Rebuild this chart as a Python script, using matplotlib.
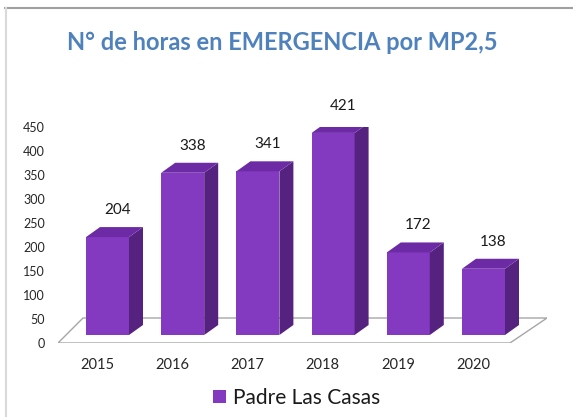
import matplotlib
matplotlib.use("Agg")
import matplotlib.pyplot as plt
from matplotlib.patches import Polygon, Patch
from matplotlib.lines import Line2D
from matplotlib.transforms import ScaledTranslation

years = ["2015", "2016", "2017", "2018", "2019", "2020"]
values = [204, 338, 341, 421, 172, 138]
series_name = "Padre Las Casas"
title = "N° de horas en EMERGENCIA por MP2,5"
yticks = [0, 50, 100, 150, 200, 250, 300, 350, 400, 450]

plt.rcParams['font.family'] = ['Lato', 'DejaVu Sans']

W, H = 573, 417
fig = plt.figure(figsize=(W / 100, H / 100), dpi=100)
fig.patch.set_facecolor('white')

# axes placement in pixels
left_px, right_px, y0_px, ytop_px = 58, 547, 343, 127
ax = fig.add_axes([left_px / W, (H - y0_px) / H, (right_px - left_px) / W, (y0_px - ytop_px) / H])
bar_step = 75.2
c0 = 107.5
ax.set_xlim((left_px - c0) / bar_step, (right_px - c0) / bar_step)
ax.set_ylim(0, 450)
ax.set_facecolor('none')
for s in ax.spines.values():
    s.set_visible(False)

px_x = 1 / bar_step          # data units per pixel (x)
px_y = 450 / (y0_px - ytop_px)  # data units per pixel (y)

front_c = '#8439C1'
top_c = '#6C2BA5'
side_c = '#55237F'

# floor
fl, fr = (58 - c0) * px_x, (510 - c0) * px_x
bl, br = (83 - c0) * px_x, (547 - c0) * px_x
back_y = 25 * px_y
floor = Polygon([(fl, 0), (fr, 0), (br, back_y), (bl, back_y)], closed=True,
                facecolor='white', edgecolor='#A6A6A6', lw=1.0, zorder=1)
ax.add_patch(floor)

# bars with pseudo-3D faces
lift = 8 * px_y
dx, dy = 14 * px_x, 10 * px_y
w = 43 * px_x
xs = list(range(len(values)))
shift = ScaledTranslation(0, 0.08, fig.dpi_scale_trans)
bars = ax.bar(xs, values, width=w, color=front_c, zorder=3, transform=ax.transData + shift)
for x, v in zip(xs, values):
    l, r = x - w / 2, x + w / 2
    b, t = lift, lift + v
    ax.add_patch(Polygon([(r, b), (r + dx, b + dy), (r + dx, t + dy), (r, t)],
                         closed=True, facecolor=side_c, edgecolor='none', zorder=3))
    ax.add_patch(Polygon([(l, t), (r, t), (r + dx, t + dy), (l + dx, t + dy)],
                         closed=True, facecolor=top_c, edgecolor='none', zorder=3))
    ax.text(x + dx / 2 + 3 * px_x, t + dy + 17 * px_y, str(v), ha='center', va='center',
            fontsize=11, color='#1a1a1a', zorder=4)

ax.set_yticks(yticks)
ax.set_yticklabels([str(t) for t in yticks], fontsize=9, color='#262626')
ax.set_xticks(xs)
ax.set_xticklabels(years, fontsize=10.5, color='#262626')
ax.tick_params(axis='y', length=0, pad=9.5)
ax.tick_params(axis='x', length=0, pad=11)
for lab in ax.get_xticklabels():
    lab.set_transform(lab.get_transform() + ScaledTranslation(-0.105, 0, fig.dpi_scale_trans))

# legend
handle = Patch(facecolor=front_c, edgecolor='none')
fig.legend([handle], [series_name], loc='center', bbox_to_anchor=(297 / W, 1 - 398 / H),
           frameon=False, fontsize=15, handlelength=0.6, handleheight=0.6, handletextpad=0.35,
           labelcolor='#1a1a1a')

# title
fig.text(282.5 / W, 1 - 42 / H, title, ha='center', va='center', fontsize=17,
         fontweight='bold', color='#4F81BD')

# chart frame (top and left edges)
fig.add_artist(Line2D([5 / W, 1], [1 - 8 / H, 1 - 8 / H], color='#A0A0A0', lw=1.5))
fig.add_artist(Line2D([5.5 / W, 5.5 / W], [0, 1 - 8 / H], color='#D9D9D9', lw=1.5))

fig.savefig('out.png', dpi=100)
